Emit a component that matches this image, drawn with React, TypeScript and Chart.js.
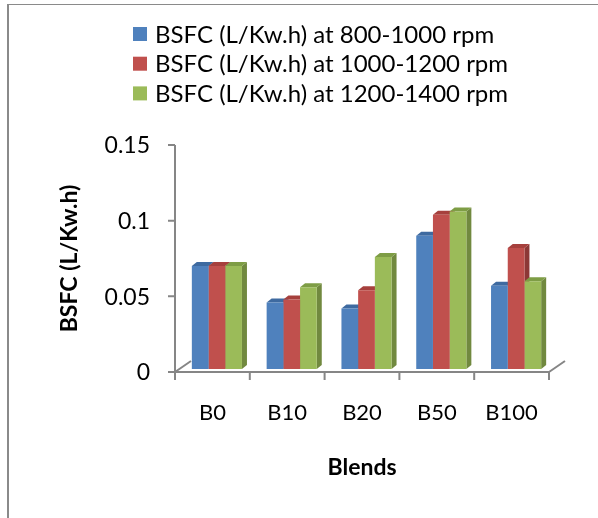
import React, { useEffect, useRef } from "react";
import { Chart, registerables } from "chart.js";

Chart.register(...registerables);

const blends = ["B0", "B10", "B20", "B50", "B100"];
const seriesLabels = [
  "BSFC (L/Kw.h) at 800-1000 rpm",
  "BSFC (L/Kw.h) at 1000-1200 rpm",
  "BSFC (L/Kw.h) at 1200-1400 rpm",
];
const bsfc800 = [0.068, 0.044, 0.040, 0.088, 0.055];
const bsfc1000 = [0.068, 0.046, 0.052, 0.102, 0.080];
const bsfc1200 = [0.068, 0.054, 0.074, 0.104, 0.058];
const yTicks = [0, 0.05, 0.1, 0.15];
const yTickLabels = ["0", "0.05", "0.1", "0.15"];
const xTitle = "Blends";
const yTitle = "BSFC (L/Kw.h)";

const FRONT = ["#4F81BD", "#C0504D", "#9BBB59"];
const SIDE = ["#385D8A", "#8C3836", "#71893F"];
const TOP = ["#3E6AA0", "#A6403D", "#7E9D45"];
const AXIS = "#868686";
const FONT = "Lato, 'Open Sans', sans-serif";

const DX = 5;
const DY = 4;
const SHIFT_X = 4.5;
const SHIFT_Y = -3;

const decoPlugin = {
  id: "deco",
  beforeDatasetsDraw(chart: any) {
    const ctx = chart.ctx;
    ctx.save();
    ctx.translate(SHIFT_X, SHIFT_Y);
    const metas = chart.data.datasets.map((_: any, i: number) => chart.getDatasetMeta(i));
    metas.forEach((meta: any, di: number) => {
      meta.data.forEach((el: any) => {
        const { x, y, base, width } = el.getProps(["x", "y", "base", "width"], true);
        const r = x + width / 2;
        ctx.fillStyle = SIDE[di];
        ctx.beginPath();
        ctx.moveTo(r, y);
        ctx.lineTo(r + DX, y - DY);
        ctx.lineTo(r + DX, base - DY);
        ctx.lineTo(r, base);
        ctx.closePath();
        ctx.fill();
      });
    });
    metas.forEach((meta: any, di: number) => {
      meta.data.forEach((el: any) => {
        const { x, y, width } = el.getProps(["x", "y", "width"], true);
        const l = x - width / 2;
        const r = x + width / 2;
        ctx.fillStyle = TOP[di];
        ctx.beginPath();
        ctx.moveTo(l, y);
        ctx.lineTo(l + DX, y - DY);
        ctx.lineTo(r + DX, y - DY);
        ctx.lineTo(r, y);
        ctx.closePath();
        ctx.fill();
      });
    });
  },
  afterDatasetsDraw(chart: any) {
    chart.ctx.restore();
  },
  afterDraw(chart: any) {
    const ctx = chart.ctx;
    const xs = chart.scales.x;
    const ys = chart.scales.y;
    const left = chart.chartArea.left;
    const right = chart.chartArea.right;
    const y0 = ys.getPixelForValue(0);
    const yTop = ys.getPixelForValue(yTicks[yTicks.length - 1]);
    ctx.save();
    ctx.strokeStyle = AXIS;
    ctx.lineWidth = 2;
    ctx.beginPath();
    ctx.moveTo(left, yTop);
    ctx.lineTo(left, y0);
    yTicks.forEach((v) => {
      const p = ys.getPixelForValue(v);
      ctx.moveTo(left - 7, p);
      ctx.lineTo(left, p);
    });
    ctx.moveTo(left, y0);
    ctx.lineTo(right, y0);
    const step = (right - left) / blends.length;
    for (let i = 0; i <= blends.length; i++) {
      const px = left + i * step;
      ctx.moveTo(px, y0);
      ctx.lineTo(px, y0 + 8);
    }
    ctx.moveTo(left, y0);
    ctx.lineTo(left + 16, y0 - 11);
    ctx.moveTo(right, y0);
    ctx.lineTo(right + 16, y0 - 11);
    ctx.stroke();

    ctx.fillStyle = "#000";
    ctx.font = `23px ${FONT}`;
    ctx.textAlign = "right";
    ctx.textBaseline = "middle";
    yTicks.forEach((v, i) => {
      ctx.fillText(yTickLabels[i], left - 25, ys.getPixelForValue(v) + 1);
    });
    ctx.textAlign = "center";
    ctx.font = `22px ${FONT}`;
    blends.forEach((b, i) => {
      ctx.fillText(b, xs.getPixelForValue(i), 413);
    });
    ctx.font = `bold 23px ${FONT}`;
    ctx.fillText(xTitle, (left + right) / 2, 468);
    ctx.save();
    ctx.translate(70, (yTop + y0) / 2);
    ctx.rotate(-Math.PI / 2);
    ctx.fillText(yTitle, 0, 0);
    ctx.restore();

    ctx.textAlign = "left";
    ctx.font = `24px ${FONT}`;
    chart.data.datasets.forEach((ds: any, i: number) => {
      const cy = 34 + i * 29.7;
      ctx.fillStyle = FRONT[i];
      ctx.fillRect(133, cy - 7, 14, 14);
      ctx.fillStyle = "#000";
      ctx.fillText(ds.label, 155, cy + 1);
    });
    ctx.restore();
  },
};

export default function App() {
  const ref = useRef<HTMLCanvasElement>(null);
  useEffect(() => {
    document.body.style.margin = "0";
    const chart = new Chart(ref.current!, {
      type: "bar",
      data: {
        labels: blends,
        datasets: [bsfc800, bsfc1000, bsfc1200].map((d, i) => ({
          label: seriesLabels[i],
          data: d,
          backgroundColor: FRONT[i],
          borderWidth: 0,
          categoryPercentage: 0.67,
          barPercentage: 1,
          clip: false as any,
        })),
      },
      options: {
        animation: false,
        responsive: false,
        devicePixelRatio: 1,
        layout: { padding: { left: 175, right: 49, top: 145, bottom: 146 } },
        plugins: { legend: { display: false }, tooltip: { enabled: false } },
        scales: {
          x: { display: false },
          y: { display: false, min: 0, max: 0.15 },
        },
      },
      plugins: [decoPlugin],
    });
    return () => chart.destroy();
  }, []);
  return (
    <div style={{ position: "relative", width: 598, height: 518, background: "#fff", overflow: "hidden" }}>
      <canvas ref={ref} width={598} height={518} style={{ display: "block" }} />
      <div
        style={{
          position: "absolute",
          left: 7,
          top: 4,
          width: 600,
          height: 520,
          borderLeft: "2px solid #8a8a8a",
          borderTop: "1px solid #8a8a8a",
          pointerEvents: "none",
        }}
      />
    </div>
  );
}
